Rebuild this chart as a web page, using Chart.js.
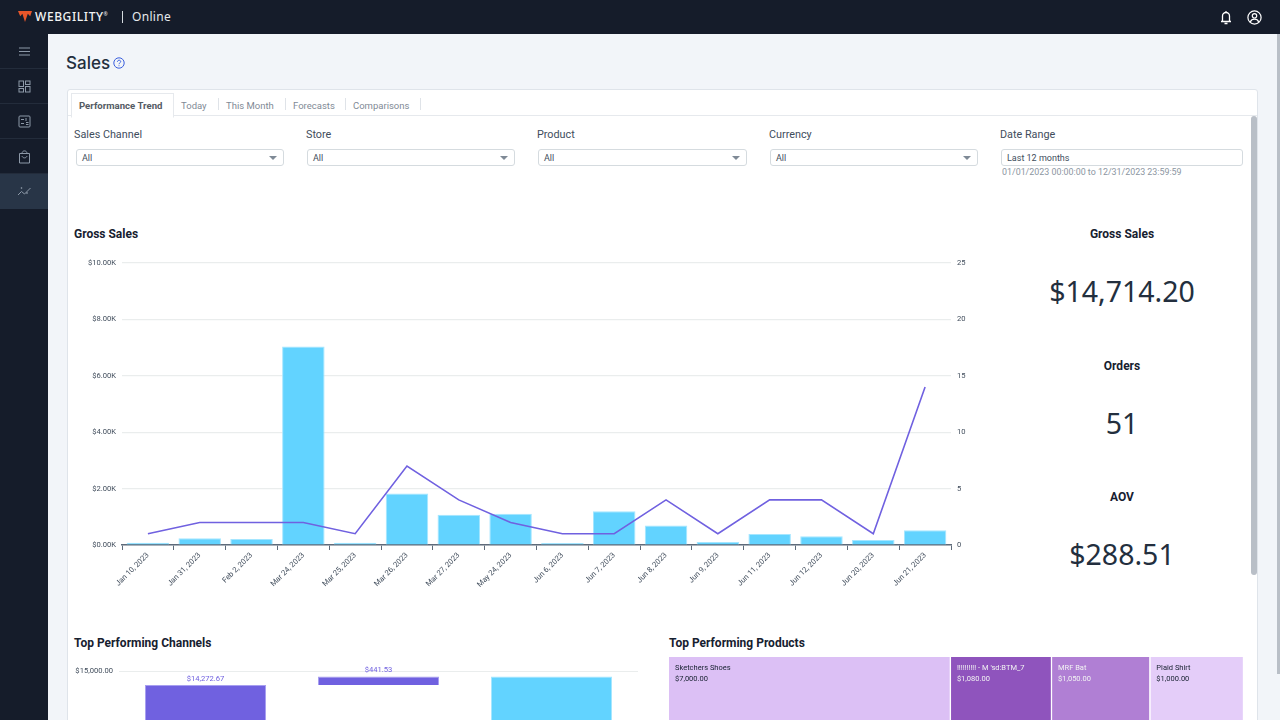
<!DOCTYPE html>
<html>
<head>
<meta charset="utf-8">
<title>Sales</title>
<script src="https://cdn.jsdelivr.net/npm/chart.js@4"></script>
<style>
  html, body { margin: 0; width: 1280px; height: 720px; overflow: hidden; background: #f2f5f9; font-family: Roboto, sans-serif; color: #16202f; }
  .abs { position: absolute; white-space: nowrap; }
  #top { left: 0; top: 0; width: 1280px; height: 34px; background: #151c2a; }
  #side { left: 0; top: 34px; width: 48px; height: 686px; background: #151c2a; }
  .sep { position: absolute; left: 0; width: 48px; height: 1px; background: #232c3b; }
  #selected { left: 0; top: 174px; width: 48px; height: 35px; background: #283547; position: absolute; }
  #card { left: 67px; top: 89px; width: 1189px; height: 640px; background: #fff; border: 1px solid #dfe4ea; border-radius: 3px; }
  #tabline { left: 68px; top: 115px; width: 1189px; height: 1px; background: #e6e9ed; }
  #activetab { left: 71px; top: 93px; width: 101px; height: 23px; background: #fff; border: 1px solid #e6e9ed; border-bottom: 1px solid #fff; }
  .tab { font-size: 9.5px; color: #7f8a96; top: 100px; }
  .tabsep { top: 98px; width: 1px; height: 12px; background: #dfe3e8; }
  .lab { font-size: 10.8px; color: #414d5c; top: 128px; }
  .sel { top: 149px; height: 15px; background: #fff; border: 1px solid #d5dbdf; border-radius: 3px; font-size: 9px; line-height: 16px; color: #414d5c; box-sizing: content-box; }
  .sel span { margin-left: 5px; }
  .arrow { position: absolute; right: 6px; top: 6px; width: 0; height: 0; border-left: 4px solid transparent; border-right: 4px solid transparent; border-top: 4px solid #7f8a96; }
  .head { font-size: 12px; font-weight: 700; color: #16202f; }
  .kpiT { left: 1022px; width: 200px; text-align: center; font-size: 12px; font-weight: 700; }
  .kpiV { left: 1022px; width: 200px; text-align: center; font-family: "Noto Sans", sans-serif; font-size: 28.5px; color: #232f3e; }
  canvas { position: absolute; }
</style>
</head>
<body>
<div class="abs" id="top"></div>
<div class="abs" id="side">
  <div class="sep" style="top:34px"></div>
  <div class="sep" style="top:69px"></div>
  <div class="sep" style="top:104px"></div>
  <div class="sep" style="top:139px"></div>
  <div id="selected" style="top:140px"></div>
</div>

<svg class="abs" style="left:18px;top:11px" width="14" height="12" viewBox="0 0 14 12"><path d="M0 0h14l-1.8 5.2-2.4-2.4L7 11 4.4 2.8 2.2 5.2z" fill="#e8562a"/></svg>
<div class="abs" style="left:35px;top:8px;font-family:'Noto Sans',sans-serif;font-size:12px;font-weight:500;color:#f2f3f3;letter-spacing:.6px">WEBGILITY<sup style="font-size:5px">®</sup></div>
<div class="abs" style="left:122px;top:11px;width:1px;height:12px;background:#d5dbdf"></div>
<div class="abs" style="left:132px;top:8px;font-family:'Noto Sans',sans-serif;font-size:12px;color:#e6e9ed;letter-spacing:.3px">Online</div>

<svg class="abs" style="left:1219px;top:10px" width="14" height="15" viewBox="0 0 14 15" fill="none" stroke="#fff" stroke-width="1.3"><path d="M2 11.5h10M3.5 11.5V6a3.5 3.5 0 0 1 7 0v5.5M7 1v1.2M5.5 13.5h3"/></svg>
<svg class="abs" style="left:1247px;top:10px" width="15" height="15" viewBox="0 0 15 15" fill="none" stroke="#fff" stroke-width="1.2"><circle cx="7.5" cy="7.5" r="6.6"/><circle cx="7.5" cy="5.8" r="2.2"/><path d="M3.3 12c.8-2 2.4-2.8 4.2-2.8s3.4.8 4.2 2.8"/></svg>

<svg class="abs" style="left:18px;top:46px" width="13" height="11" viewBox="0 0 13 11" stroke="#8d99a8" stroke-width="1"><path d="M1 2h11M1 5.5h11M1 9h11"/></svg>
<svg class="abs" style="left:18px;top:80px" width="13" height="13" viewBox="0 0 13 13" fill="none" stroke="#8d99a8" stroke-width="1"><rect x="1" y="1" width="4.5" height="5.5"/><rect x="7.5" y="1" width="4.5" height="3.5"/><rect x="1" y="8.5" width="4.5" height="3.5"/><rect x="7.5" y="6.5" width="4.5" height="5.5"/></svg>
<svg class="abs" style="left:18px;top:115px" width="13" height="13" viewBox="0 0 13 13" fill="none" stroke="#8d99a8" stroke-width="1"><rect x="1" y="1" width="11" height="11" rx="1"/><path d="M3 4.5h3M8 3v3M3 8.5h3M8 7.5h2.5M8 9.5h2.5"/></svg>
<svg class="abs" style="left:18px;top:149px" width="13" height="15" viewBox="0 0 13 15" fill="none" stroke="#8d99a8" stroke-width="1"><path d="M1.5 4.5h10v9.5h-10zM4 4.5C4 1 9 1 9 4.5M4 7c.5 2.5 4.5 2.5 5 0"/></svg>
<svg class="abs" style="left:17px;top:186px" width="15" height="11" viewBox="0 0 15 11" fill="none" stroke="#8d99a8" stroke-width="1"><path d="M1 9l3.5-3.5 3 2.5L13.5 2"/><circle cx="4.5" cy="2" r=".5"/><circle cx="10" cy="7" r=".5"/></svg>

<div class="abs" style="left:66px;top:53px;font-size:17px;font-family:Inter,sans-serif;font-weight:500;color:#232f3e">Sales</div>
<svg class="abs" style="left:113px;top:57px" width="12" height="12" viewBox="0 0 12 12" fill="none" stroke="#3b5fdd" stroke-width="1"><circle cx="6" cy="6" r="5.2"/><path d="M4.4 4.8c0-2.1 3.3-2.1 3.3-.2 0 1.2-1.7 1.3-1.7 2.6M6 8.3v.9"/></svg>

<div class="abs" id="card"></div>
<div class="abs" id="tabline"></div>
<div class="abs" id="activetab"></div>
<div class="abs tab" style="left:79px;font-size:9.6px;font-weight:700;color:#545b64">Performance Trend</div>
<div class="abs tab" style="left:181px">Today</div>
<div class="abs tabsep" style="left:218px"></div>
<div class="abs tab" style="left:226px">This Month</div>
<div class="abs tabsep" style="left:285px"></div>
<div class="abs tab" style="left:293px">Forecasts</div>
<div class="abs tabsep" style="left:345px"></div>
<div class="abs tab" style="left:353px">Comparisons</div>
<div class="abs tabsep" style="left:420px"></div>

<div class="abs lab" style="left:74px">Sales Channel</div>
<div class="abs lab" style="left:306px">Store</div>
<div class="abs lab" style="left:537px">Product</div>
<div class="abs lab" style="left:769px">Currency</div>
<div class="abs lab" style="left:1000px">Date Range</div>
<div class="abs sel" style="left:76px;width:206px"><span>All</span><i class="arrow"></i></div>
<div class="abs sel" style="left:307px;width:206px"><span>All</span><i class="arrow"></i></div>
<div class="abs sel" style="left:538px;width:207px"><span>All</span><i class="arrow"></i></div>
<div class="abs sel" style="left:770px;width:206px"><span>All</span><i class="arrow"></i></div>
<div class="abs sel" style="left:1001px;width:240px"><span>Last 12 months</span></div>
<div class="abs" style="left:1002px;top:167px;font-size:8.9px;color:#8b95a1">01/01/2023 00:00:00 to 12/31/2023 23:59:59</div>

<div class="abs" style="left:1251px;top:116px;width:6px;height:459px;background:#b9bfc7;border-radius:3px"></div>
<div class="abs" style="left:1277px;top:34px;width:3px;height:640px;background:#b9bfc7"></div>

<div class="abs head" style="left:74px;top:227px">Gross Sales</div>
<div class="abs kpiT" style="top:227px">Gross Sales</div>
<div class="abs kpiV" style="top:272px">$14,714.20</div>
<div class="abs kpiT" style="top:359px">Orders</div>
<div class="abs kpiV" style="top:404px">51</div>
<div class="abs kpiT" style="top:490px">AOV</div>
<div class="abs kpiV" style="top:535px">$288.51</div>
<div class="abs head" style="left:74px;top:636px">Top Performing Channels</div>
<div class="abs head" style="left:669px;top:636px">Top Performing Products</div>

<canvas id="trend" style="left:66px;top:251px"></canvas>
<canvas id="channels" style="left:66px;top:655px"></canvas>
<canvas id="products" style="left:669px;top:657px"></canvas>

<script>
const dayLabels = ["Jan 10, 2023", "Jan 31, 2023", "Feb 2, 2023", "Mar 24, 2023", "Mar 25, 2023", "Mar 26, 2023", "Mar 27, 2023", "May 24, 2023", "Jun 6, 2023", "Jun 7, 2023", "Jun 8, 2023", "Jun 9, 2023", "Jun 11, 2023", "Jun 12, 2023", "Jun 20, 2023", "Jun 21, 2023"];
const salesValues = [80, 240, 210, 7040, 80, 1830, 1070, 1110, 70, 1200, 690, 110, 390, 310, 180, 520];
const orderValues = [1, 2, 2, 2, 1, 7, 4, 2, 1, 1, 4, 1, 4, 4, 1, 14];

const channelNames = ["Channel A", "Channel B", "Total"];
const channelValues = [14272.67, 441.53];
const channelTotal = 14714.20;

const productNames = ["Sketchers Shoes", "!!!!!!!!!! - M 'sd:BTM_7", "MRF Bat", "Plaid Shirt"];
const productValues = [7000, 1080, 1050, 1000];

const tickFont = { family: "Roboto", size: 7.6 };
const tickColor = "#414d5c";
const cyan = "#62d3ff";
const purple = "#7061e0";

function size(id, w, h) {
  const c = document.getElementById(id);
  c.width = w;
  c.height = h;
  c.style.width = w + "px";
  c.style.height = h + "px";
  return c;
}

function fixWidth(w) {
  return (axis) => { axis.width = w; };
}

function money(v) {
  return "$" + v.toLocaleString("en-US", { minimumFractionDigits: 2, maximumFractionDigits: 2 });
}

new Chart(size("trend", 930, 350), {
  type: "bar",
  data: {
    labels: dayLabels,
    datasets: [
      { type: "line", data: orderValues, yAxisID: "y2", borderColor: purple, borderWidth: 1.6, pointRadius: 0, tension: 0, order: 0 },
      { data: salesValues, yAxisID: "y", backgroundColor: cyan, borderColor: "#a5e6ff", borderWidth: 1, categoryPercentage: 0.82, barPercentage: 1, order: 1 },
    ],
  },
  options: {
    responsive: false,
    animation: false,
    layout: { padding: { top: 12, left: 0, right: 0, bottom: 0 } },
    plugins: { legend: { display: false }, tooltip: { enabled: false } },
    scales: {
      x: {
        afterFit: (axis) => { axis.height = 56; },
        grid: { offset: true, drawOnChartArea: false, drawTicks: true, tickLength: 5, color: "#5f6b7a" },
        border: { color: "#5f6b7a", width: 1.5 },
        ticks: { font: tickFont, color: tickColor, minRotation: 45, maxRotation: 45, autoSkip: false, padding: 1 },
      },
      y: {
        min: 0, max: 10000,
        afterFit: fixWidth(56),
        grid: { color: "#eaeded", lineWidth: 1.2, drawTicks: false },
        border: { display: false },
        ticks: { stepSize: 2000, font: tickFont, color: tickColor, padding: 6, callback: (v) => "$" + (v / 1000).toFixed(2) + "K" },
      },
      y2: {
        position: "right",
        min: 0, max: 25,
        afterFit: fixWidth(45),
        grid: { display: false, tickLength: 0 },
        border: { display: false },
        ticks: { stepSize: 5, font: tickFont, color: tickColor, padding: 6 },
      },
    },
  },
});

const channelBars = [
  [0, channelValues[0]],
  [channelValues[0], channelValues[0] + channelValues[1]],
  [0, channelTotal],
];

new Chart(size("channels", 572, 333), {
  type: "bar",
  data: {
    labels: channelNames,
    datasets: [{
      data: channelBars,
      backgroundColor: [purple, purple, cyan],
      borderColor: ["#a79ff0", "#a79ff0", "#a5e6ff"],
      borderWidth: 1,
      categoryPercentage: 0.7,
      barPercentage: 1,
    }],
  },
  options: {
    responsive: false,
    animation: false,
    layout: { padding: { top: 16 } },
    plugins: { legend: { display: false }, tooltip: { enabled: false } },
    scales: {
      x: { afterFit: (axis) => { axis.height = 29; }, grid: { display: false }, ticks: { font: tickFont, color: tickColor } },
      y: {
        min: 0, max: 15000,
        afterFit: fixWidth(53),
        grid: { color: "#eaeded", drawTicks: false },
        border: { display: false },
        ticks: { stepSize: 5000, font: tickFont, color: tickColor, padding: 6, callback: (v) => money(v) },
      },
    },
  },
  plugins: [{
    id: "barLabels",
    afterDatasetsDraw(chart) {
      const ctx = chart.ctx;
      ctx.save();
      ctx.font = "7.6px Roboto";
      ctx.fillStyle = purple;
      ctx.textAlign = "center";
      chart.getDatasetMeta(0).data.forEach((bar, i) => {
        if (i < channelValues.length) ctx.fillText(money(channelValues[i]), bar.x, bar.y - 4);
      });
      ctx.restore();
    },
  }],
});

// treemap-like row: the smaller cells sit in a shorter row, so they get wider per dollar
const smallCellDepth = 0.43;
const productWidths = productValues.map((v, i) => (i === 0 ? v : v / smallCellDepth));
const productColors = ["#dcc0f5", "#8f54bd", "#b07fd4", "#e4cdf9"];
const productInk = ["#16202f", "#f2f3f3", "#f2f3f3", "#16202f"];

new Chart(size("products", 575, 120), {
  type: "bar",
  data: {
    labels: ["Products"],
    datasets: productNames.map((name, i) => ({
      label: name,
      data: [productWidths[i]],
      backgroundColor: productColors[i],
      borderColor: "#fff",
      borderWidth: { left: 0, right: 1.5, top: 0, bottom: 0 },
      categoryPercentage: 1,
      barPercentage: 1,
    })),
  },
  options: {
    indexAxis: "y",
    responsive: false,
    animation: false,
    plugins: { legend: { display: false }, tooltip: { enabled: false } },
    scales: {
      x: { stacked: true, display: false, min: 0, max: productWidths.reduce((a, b) => a + b, 0) },
      y: { stacked: true, display: false },
    },
  },
  plugins: [{
    id: "cellLabels",
    afterDatasetsDraw(chart) {
      const ctx = chart.ctx;
      ctx.save();
      ctx.font = "7.5px Roboto";
      chart.data.datasets.forEach((ds, i) => {
        const bar = chart.getDatasetMeta(i).data[0];
        ctx.fillStyle = productInk[i];
        ctx.fillText(ds.label, bar.base + 6, 13);
        ctx.fillText(money(productValues[i]), bar.base + 6, 23.5);
      });
      ctx.restore();
    },
  }],
});
</script>
</body>
</html>
